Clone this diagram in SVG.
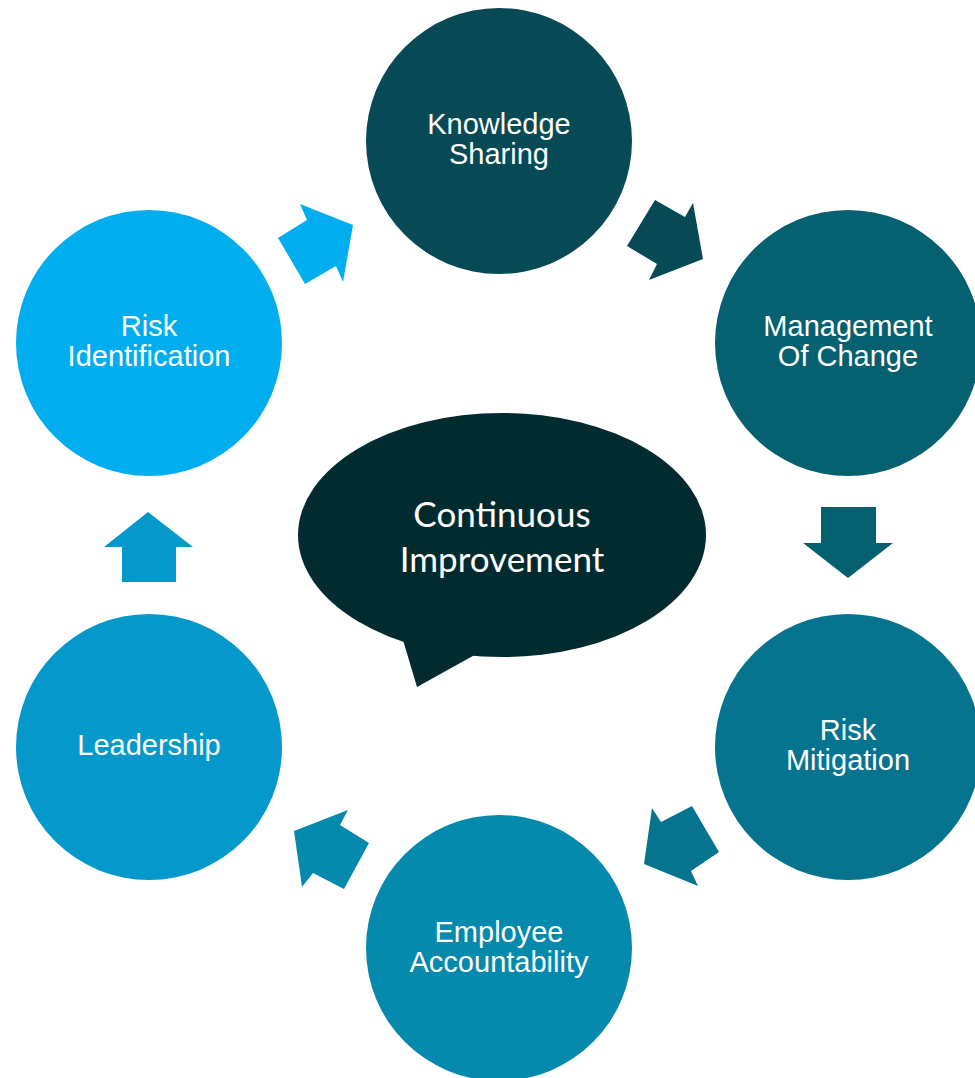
<svg xmlns="http://www.w3.org/2000/svg" width="975" height="1078" viewBox="0 0 975 1078">
<style>
.lbl{font-family:"Liberation Sans",Arial,sans-serif;font-size:29px;fill:#ffffff;text-anchor:middle}
.ctr{font-family:"Lato","Open Sans",sans-serif;font-size:35px;fill:#ffffff;text-anchor:middle}
</style>
<rect width="975" height="1078" fill="#ffffff"/>
<g id="connectors">
<polygon points="278,238 305,284 336,266 343,282 353,225 300,204 307,220" fill="#00aeef"/>
<polygon points="655,200 685,217 693,203 703,259 649,280 657,264 627,246" fill="#074a56"/>
<polygon points="821,507 876,507 876,543 893,543 848,578 803,543 821,543" fill="#05606f"/>
<polygon points="692,806 719,852 691,871 698,886 644,864 652,808 661,822" fill="#06748f"/>
<polygon points="348,810 340,825 369,843 344,889 313,873 302,887 294,831" fill="#0589ad"/>
<polygon points="148,512 193,547 176,547 176,582 122,582 122,547 104,547" fill="#0599cb"/>
</g>
<g id="knowledge-sharing">
<circle cx="499" cy="141" r="133" fill="#074a56"/>
<text class="lbl" x="499" y="134">Knowledge</text>
<text class="lbl" x="499" y="164">Sharing</text>
</g>
<g id="management-of-change">
<circle cx="848" cy="343" r="133" fill="#05606f"/>
<text class="lbl" x="848" y="336">Management</text>
<text class="lbl" x="848" y="366">Of Change</text>
</g>
<g id="risk-mitigation">
<circle cx="848" cy="747" r="133" fill="#06748f"/>
<text class="lbl" x="848" y="740">Risk</text>
<text class="lbl" x="848" y="770">Mitigation</text>
</g>
<g id="employee-accountability">
<circle cx="499" cy="948" r="133" fill="#0589ad"/>
<text class="lbl" x="499" y="942">Employee</text>
<text class="lbl" x="499" y="972">Accountability</text>
</g>
<g id="leadership">
<circle cx="149" cy="747" r="133" fill="#0599cb"/>
<text class="lbl" x="149" y="755">Leadership</text>
</g>
<g id="risk-identification">
<circle cx="149" cy="343" r="133" fill="#00aeef"/>
<text class="lbl" x="149" y="336">Risk</text>
<text class="lbl" x="149" y="366">Identification</text>
</g>
<g id="continuous-improvement">
<ellipse cx="502" cy="535" rx="204" ry="122" fill="#022b30"/>
<polygon points="400,630 417,687 480,652" fill="#022b30"/>
<text class="ctr" x="502" y="527">Continuous</text>
<text class="ctr" x="502" y="572">Improvement</text>
</g>
</svg>
